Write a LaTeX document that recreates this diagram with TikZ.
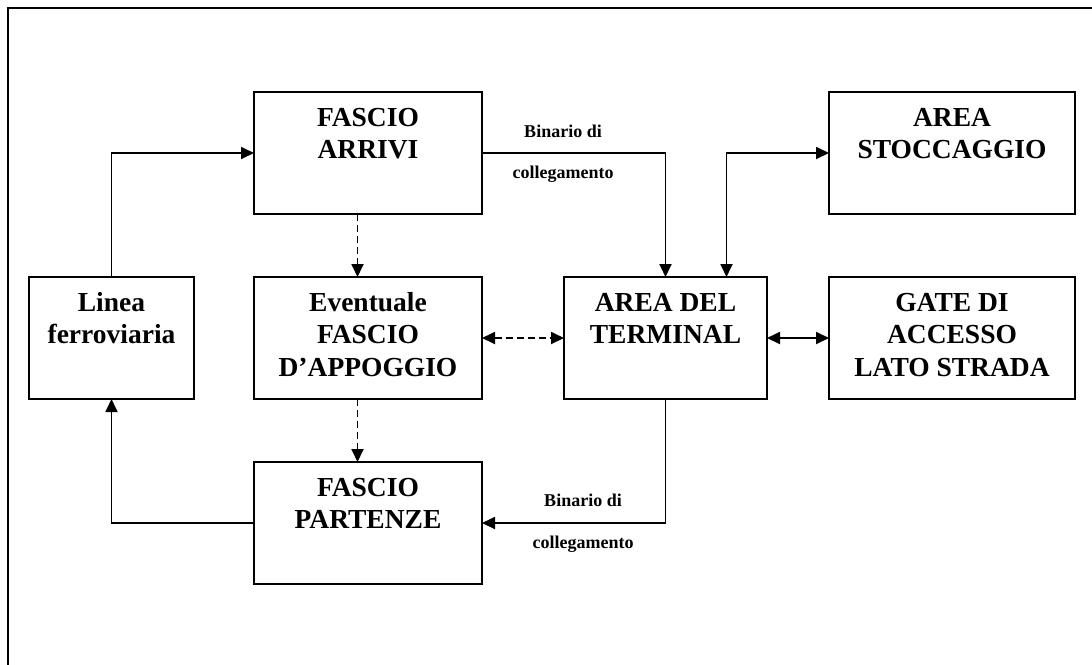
\documentclass[tikz,border=0pt]{standalone}
\usepackage{fontspec}
\setmainfont{Liberation Serif}
\usetikzlibrary{arrows.meta}
\tikzset{
  box/.style={draw, line width=2pt, rectangle, inner sep=0pt, outer sep=0pt},
  conn/.style={line width=1.8pt, -{Triangle[length=13pt,width=12pt]}},
  connboth/.style={line width=1.8pt, {Triangle[length=13pt,width=12pt]}-{Triangle[length=13pt,width=12pt]}},
  dashedline/.style={dash pattern=on 7pt off 4pt},
  lbl/.style={font=\bfseries\fontsize{18}{20}\selectfont, inner sep=0pt, anchor=base}
}
\newcommand{\boxtext}[2]{\parbox[c][122pt][t]{#1}{\centering\bfseries\fontsize{27.5}{32.5}\selectfont\rule{0pt}{34pt}#2}}
\begin{document}
\begin{tikzpicture}[x=1pt,y=-1pt]
\useasboundingbox (0,0) rectangle (1092,664);
\clip (0,0) rectangle (1092,664);
\draw[line width=2pt] (8,8) rectangle (1110,680);

\node[box] (arr) at (368,153) {\boxtext{228pt}{FASCIO\\ARRIVI}};
\node[box] (app) at (368,338) {\boxtext{228pt}{Eventuale\\FASCIO\\D’APPOGGIO}};
\node[box] (lin) at (111.5,338) {\boxtext{165pt}{Linea\\ferroviaria}};
\node[box] (par) at (368,523) {\boxtext{228pt}{FASCIO\\PARTENZE}};
\node[box] (term) at (665.5,338) {\boxtext{203pt}{AREA DEL\\TERMINAL}};
\node[box] (sto) at (952,153) {\boxtext{246pt}{AREA\\STOCCAGGIO}};
\node[box] (gate) at (952,338) {\boxtext{246pt}{GATE DI\\ACCESSO\\LATO STRADA}};

\draw[conn] (lin.north) |- (arr.west);
\draw[conn] (arr.east) -| (term.north);
\draw[connboth] ([xshift=61pt]term.north) |- (sto.west);
\draw[conn, dashedline] ([xshift=-10.5pt]arr.south) -- ([xshift=-10.5pt]app.north);
\draw[conn, dashedline] ([xshift=-10.5pt]app.south) -- ([xshift=-10.5pt]par.north);
\draw[connboth, dashedline] (app.east) -- (term.west);
\draw[connboth] (term.east) -- (gate.west);
\draw[conn] (term.south) |- (par.east);
\draw[conn] (par.west) -| (lin.south);

\node[lbl] (b1) at (563,137) {Binario di};
\node[lbl] (c1) at (563,178) {collegamento};
\node[lbl] (b2) at (583,506) {Binario di};
\node[lbl] (c2) at (583,548) {collegamento};
\end{tikzpicture}
\end{document}
